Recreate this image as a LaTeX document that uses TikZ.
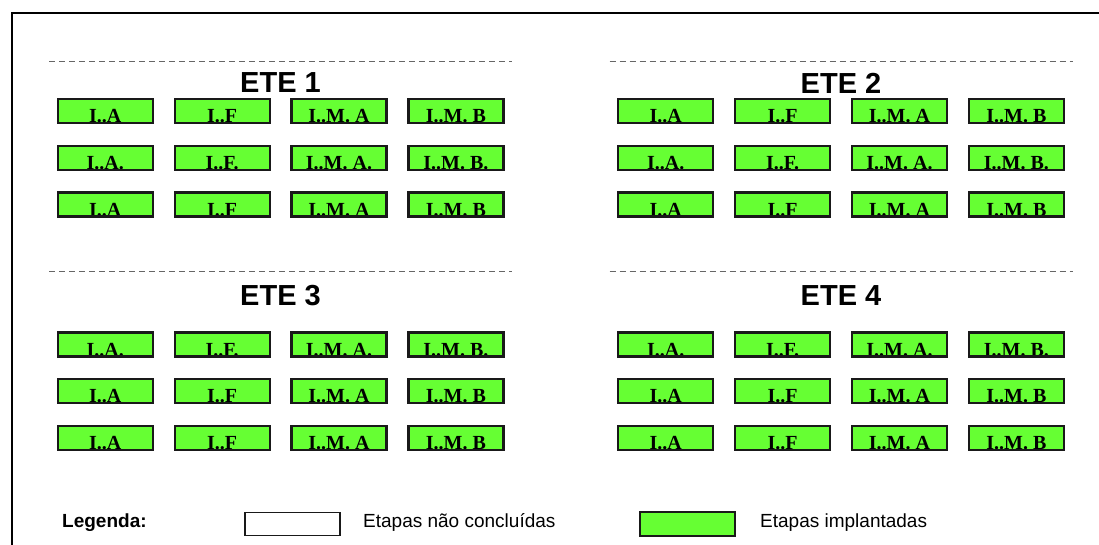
\documentclass[tikz,border=0pt]{standalone}
\usepackage{fontspec}
\setmainfont{Liberation Serif}
\newfontfamily\arialfont{Liberation Sans}
\definecolor{stepgreen}{RGB}{102,255,51}
\begin{document}
\begin{tikzpicture}[x=1pt,y=-1pt,
  cell/.style={rectangle, fill=stepgreen, minimum width=95pt, minimum height=24pt, inner sep=0pt, outer sep=0pt},
  cellborder/.style={draw=black!90, line width=2.2pt},
  celltext/.style={font=\bfseries\fontsize{20}{20}\selectfont, inner sep=0pt, anchor=base},
  etetitle/.style={font=\arialfont\bfseries\fontsize{29}{29}\selectfont, inner sep=0pt},
  guide/.style={draw=black!60, line width=1.2pt, dash pattern=on 6pt off 4pt},
  legtext/.style={font=\arialfont\fontsize{19}{19}\selectfont, inner sep=0pt, anchor=base west},
]
\useasboundingbox (0,0) rectangle (1099,544);

% outer frame (only top and left edges fall inside the page)
\coordinate (frameBL) at (12,547);
\coordinate (frameTR) at (1102,13);
\draw[line width=2pt] (frameBL) |- (frameTR);

% four treatment plants, each with a 3x4 grid of stages
% group / x offset / dash y / title y / first row y / row with trailing dots
\foreach \g/\xo/\dy/\ty/\ry/\dotrow in {1/0/61.7/83/111.2/2, 2/560.5/61.7/83/111.2/2, 3/0/271.7/296/344.5/1, 4/560.5/271.7/296/344.5/1}{
  \coordinate (dw\g) at (49+\xo,\dy);
  \coordinate (de\g) at (512+\xo,\dy);
  \draw[guide] (dw\g) -- (de\g);
  \node[etetitle] (ete\g) at (280.5+\xo,\ty) {ETE \g};
  \foreach \r in {1,2,3}{
    \foreach \c/\lab in {1/I..A, 2/I..F, 3/I..M. A, 4/I..M. B}{
      \pgfmathsetmacro\cx{105.2+(\c-1)*116.9+\xo}
      \pgfmathsetmacro\cy{\ry+(\r-1)*46.65}
      \node[cell] (s\g-\r-\c) at (\cx,\cy) {};
      \ifnum\r=\dotrow
        \node[celltext] (t\g-\r-\c) at ([yshift=0.5pt]s\g-\r-\c.south) {\lab.};
      \else
        \node[celltext] (t\g-\r-\c) at ([yshift=0.5pt]s\g-\r-\c.south) {\lab};
      \fi
      \draw[cellborder] (s\g-\r-\c.south west) rectangle (s\g-\r-\c.north east);
    }
  }
}

% legend
\node[font=\arialfont\bfseries\fontsize{19}{19}\selectfont, inner sep=0pt, anchor=base west] (leg) at (62,527) {Legenda:};
\node[draw=black!90, line width=1.2pt, fill=white, minimum width=95pt, minimum height=23pt, inner sep=0pt] (legopen) at (292.5,524) {};
\node[legtext] (legopentxt) at (363,527) {Etapas não concluídas};
\node[cell, draw=black!90, line width=1.8pt] (legdone) at (687.5,524) {};
\node[legtext] (legdonetxt) at (760,527) {Etapas implantadas};
\end{tikzpicture}
\end{document}
